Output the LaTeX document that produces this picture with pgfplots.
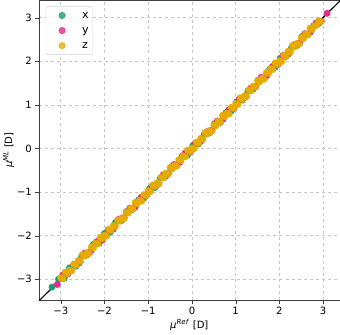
\documentclass[border=0pt]{standalone}
\usepackage{fontspec}
\setmainfont{DejaVu Sans}
\usepackage{pgfplots}
\pgfplotsset{compat=1.18}

\definecolor{cx}{HTML}{1B9E77}
\definecolor{cy}{HTML}{E7298A}
\definecolor{cz}{HTML}{E6AB02}

\begin{document}
\begin{tikzpicture}[x=1bp,y=1bp]
\begin{axis}[
  scale only axis,
  width=299bp, height=298bp,
  xmin=-3.5, xmax=3.38,
  ymin=-3.48, ymax=3.4,
  xtick={-3,-2,-1,0,1,2,3},
  ytick={-3,-2,-1,0,1,2,3},
  xticklabels={−3,−2,−1,0,1,2,3},
  yticklabels={−3,−2,−1,0,1,2,3},
  tick pos=left,
  tick align=outside,
  major tick length=3.5bp,
  grid=major,
  major grid style={dashed, gray!45, line width=0.5pt},
  axis line style={black!75},
  tick style={black!75},
  ticklabel style={font=\fontsize{10}{12}\selectfont},
  label style={font=\fontsize{10}{12}\selectfont},
  xlabel={\textit{μ}\textsuperscript{\textit{Ref}} [D]},
  ylabel={\textit{μ}\textsuperscript{\textit{ML}} [D]},
  xlabel style={yshift=2bp},
  ylabel style={yshift=-4bp},
  legend style={at={(0.023,0.98)}, anchor=north west, draw=gray!35,
    rounded corners=2bp, fill=white, fill opacity=0.8, text opacity=1,
    font=\fontsize{11}{12}\selectfont, row sep=2bp, inner xsep=2bp, inner ysep=2.5bp,
    nodes={text height=7bp, text depth=2bp}},
  legend cell align=left,
  legend image code/.code={%
    \path[draw=none, fill=none] (0bp,0bp) -- (32bp,0bp);
    \draw[#1, draw=none] plot coordinates {(14bp,0bp)};},
]
\addplot[only marks, mark=*, mark size=3.2bp, color=cx] coordinates {
(-3.20,-3.18) (-3.05,-3.00) (-2.92,-2.98) (-2.80,-2.74) (-2.65,-2.70)
(-2.52,-2.47) (-2.40,-2.44) (-2.25,-2.20) (-2.12,-2.17) (-2.00,-1.95)
(-1.87,-1.92) (-1.75,-1.70) (-1.62,-1.66) (-1.50,-1.45) (-1.36,-1.40)
(-1.22,-1.18) (-1.10,-1.14) (-0.97,-0.92) (-0.85,-0.90) (-0.72,-0.68)
(-0.60,-0.64) (-0.47,-0.42) (-0.35,-0.39) (-0.22,-0.17) (-0.10,-0.15)
(0.02,0.07) (0.15,0.10) (0.28,0.32) (0.40,0.36) (0.52,0.57)
(0.65,0.60) (0.78,0.82) (0.90,0.86) (1.02,1.07) (1.15,1.11)
(1.28,1.32) (1.40,1.36) (1.52,1.57) (1.65,1.61) (1.78,1.82)
(1.90,1.86) (2.02,2.07) (2.15,2.11) (2.28,2.32) (2.40,2.36)
(2.52,2.57) (2.65,2.61) (2.78,2.81) (2.90,2.87)
};
\addlegendentry{x}
\addplot[only marks, mark=*, mark size=3.2bp, color=cy] coordinates {
(-3.08,-3.12) (-2.95,-2.90) (-2.84,-2.88) (-2.70,-2.66) (-2.58,-2.63)
(-2.45,-2.40) (-2.32,-2.37) (-2.18,-2.14) (-2.05,-2.10) (-1.92,-1.87)
(-1.80,-1.85) (-1.68,-1.63) (-1.55,-1.59) (-1.42,-1.37) (-1.30,-1.35)
(-1.16,-1.12) (-1.04,-1.08) (-0.91,-0.87) (-0.79,-0.83) (-0.66,-0.61)
(-0.54,-0.58) (-0.41,-0.37) (-0.28,-0.32) (-0.16,-0.11) (-0.04,-0.08)
(0.08,0.12) (0.21,0.17) (0.34,0.38) (0.46,0.42) (0.58,0.63)
(0.71,0.67) (0.84,0.88) (0.96,0.92) (1.08,1.13) (1.21,1.17)
(1.34,1.38) (1.46,1.42) (1.58,1.63) (1.71,1.67) (1.84,1.88)
(1.96,1.92) (2.08,2.13) (2.21,2.17) (2.34,2.38) (2.46,2.42)
(2.58,2.63) (2.71,2.67) (2.84,2.88) (2.96,2.92) (3.09,3.10)
};
\addlegendentry{y}
\addplot[only marks, mark=*, mark size=3.2bp, color=cz] coordinates {
(-3.00,-2.97) (-2.95,-2.99) (-2.90,-2.84) (-2.85,-2.87) (-2.80,-2.79) (-2.75,-2.81)
(-2.70,-2.66) (-2.65,-2.68) (-2.60,-2.57) (-2.55,-2.59) (-2.50,-2.44) (-2.45,-2.47)
(-2.40,-2.39) (-2.35,-2.41) (-2.30,-2.26) (-2.25,-2.28) (-2.20,-2.17) (-2.15,-2.19)
(-2.10,-2.04) (-2.05,-2.07) (-2.00,-1.99) (-1.95,-2.01) (-1.90,-1.86) (-1.85,-1.88)
(-1.80,-1.77) (-1.75,-1.79) (-1.70,-1.64) (-1.65,-1.67) (-1.60,-1.59) (-1.55,-1.61)
(-1.50,-1.46) (-1.45,-1.48) (-1.40,-1.37) (-1.35,-1.39) (-1.30,-1.24) (-1.25,-1.27)
(-1.20,-1.19) (-1.15,-1.21) (-1.10,-1.06) (-1.05,-1.08) (-1.00,-0.97) (-0.95,-0.99)
(-0.90,-0.84) (-0.85,-0.87) (-0.80,-0.79) (-0.75,-0.81) (-0.70,-0.66) (-0.65,-0.68)
(-0.60,-0.57) (-0.55,-0.59) (-0.50,-0.44) (-0.45,-0.47) (-0.40,-0.39) (-0.35,-0.41)
(-0.30,-0.26) (-0.25,-0.28) (-0.20,-0.17) (-0.15,-0.19) (-0.10,-0.04) (-0.05,-0.07)
(0.00,0.01) (0.05,-0.01) (0.10,0.14) (0.15,0.12) (0.20,0.23) (0.25,0.21)
(0.30,0.36) (0.35,0.33) (0.40,0.41) (0.45,0.39) (0.50,0.54) (0.55,0.52)
(0.60,0.63) (0.65,0.61) (0.70,0.76) (0.75,0.73) (0.80,0.81) (0.85,0.79)
(0.90,0.94) (0.95,0.92) (1.00,1.03) (1.05,1.01) (1.10,1.16) (1.15,1.13)
(1.20,1.21) (1.25,1.19) (1.30,1.34) (1.35,1.32) (1.40,1.43) (1.45,1.41)
(1.50,1.56) (1.55,1.53) (1.60,1.61) (1.65,1.59) (1.70,1.74) (1.75,1.72)
(1.80,1.83) (1.85,1.81) (1.90,1.96) (1.95,1.93) (2.00,2.01) (2.05,1.99)
(2.10,2.14) (2.15,2.12) (2.20,2.23) (2.25,2.21) (2.30,2.36) (2.35,2.33)
(2.40,2.41) (2.45,2.39) (2.50,2.54) (2.55,2.52) (2.60,2.63) (2.65,2.61)
(2.70,2.76) (2.75,2.73) (2.80,2.81) (2.85,2.83) (2.90,2.93) (2.95,2.91)
};
\addlegendentry{z}
\addplot[black, line width=1.2pt, forget plot] coordinates {(-3.6,-3.6) (3.6,3.6)};
\end{axis}
\end{tikzpicture}
\end{document}
